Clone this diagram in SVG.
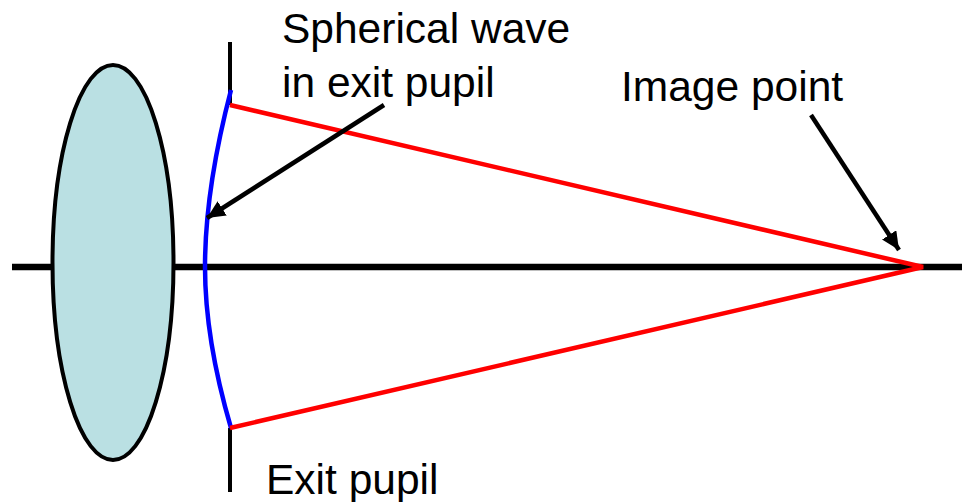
<svg xmlns="http://www.w3.org/2000/svg" width="962" height="502" viewBox="0 0 962 502">
<defs><marker id="ah" markerUnits="userSpaceOnUse" markerWidth="20" markerHeight="18" refX="18" refY="8.5" orient="auto"><path d="M0 0L18 8.5L0 17Z" fill="#000"/></marker></defs>
<style>text{font-family:"Liberation Sans",Arial,sans-serif;font-size:42.5px;fill:#000}.k{fill:none;stroke:#000;stroke-linecap:butt}.r{fill:none;stroke:#f00;stroke-width:4.5}</style>
<rect width="962" height="502" fill="#fff"/>
<g id="lens"><ellipse cx="113" cy="262.5" rx="60.5" ry="197.5" fill="#bae0e3" stroke="#000" stroke-width="4"/></g>
<g id="connectors">
<path class="k" d="M12 267H52M175 267H962" stroke-width="6.5"/>
<path class="k" d="M230 42V105M230 428V492" stroke-width="4"/>
<path d="M231 90C214 155 205 215 205 267C205 320 214 370 231 428" fill="none" stroke="#00f" stroke-width="4.5"/>
<path class="r" d="M230 105L923 267L230 428"/>
<path class="k" d="M384 105L207 218" stroke-width="4.5" marker-end="url(#ah)"/>
<path class="k" d="M811 115L899 250" stroke-width="4.5" marker-end="url(#ah)"/>
</g>
<g id="label-wave"><text x="282" y="43">Spherical wave</text><text x="282" y="97">in exit pupil</text></g>
<g id="label-image"><text x="621" y="101">Image point</text></g>
<g id="label-exit"><text x="266" y="494">Exit pupil</text></g>
</svg>
